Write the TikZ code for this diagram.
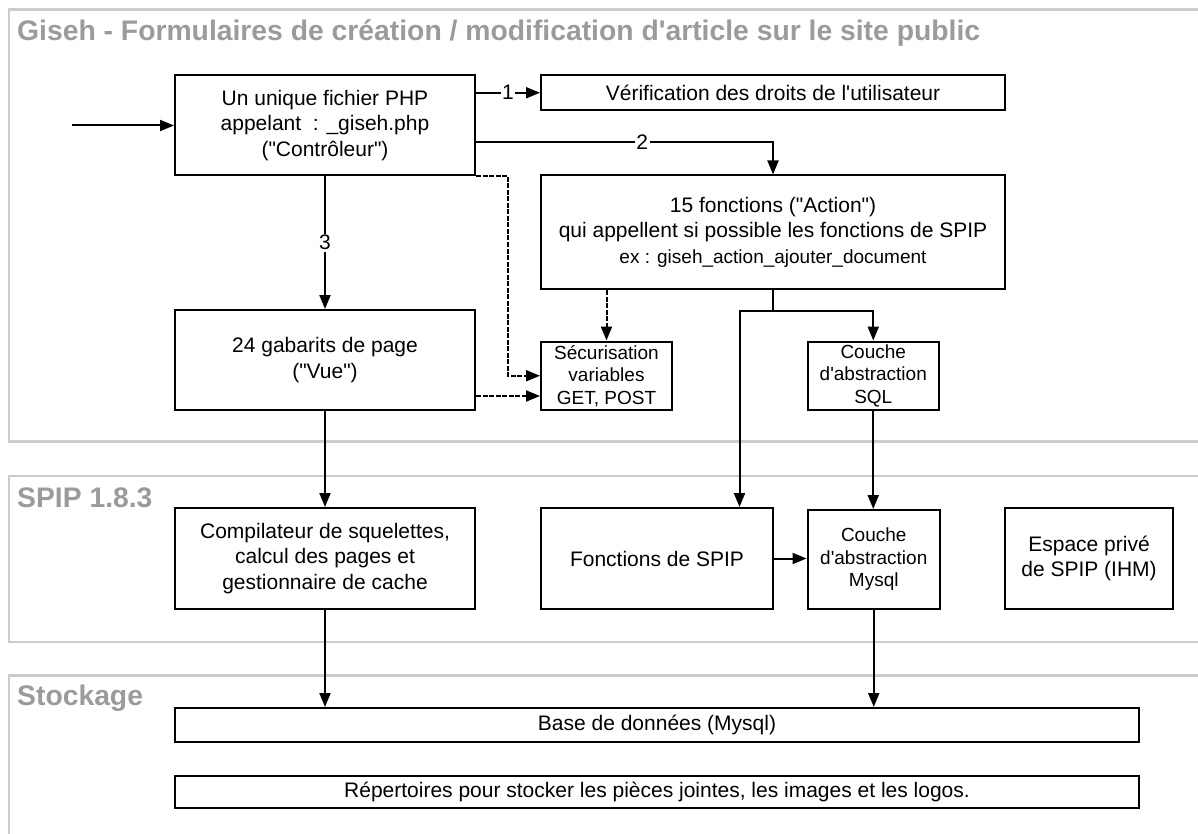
\documentclass[tikz,border=0pt]{standalone}
\usepackage{fontspec}
\setmainfont{Liberation Sans}[Ligatures=TeXOff]
\usetikzlibrary{arrows.meta,calc,positioning}
\definecolor{framegray}{RGB}{204,204,204}
\definecolor{titlegray}{RGB}{155,155,155}
\newcommand{\boxfont}{\fontsize{21}{25.5}\selectfont}
\newcommand{\smallfont}{\fontsize{19}{22.5}\selectfont}
\newcommand{\titlefont}{\fontsize{28.3}{32}\selectfont\bfseries}

\begin{document}
\begin{tikzpicture}[x=1pt,y=-1pt,
    box/.style={draw, line width=2pt, align=center, inner sep=0pt, font=\boxfont},
    smallbox/.style={box, font=\smallfont},
    arr/.style={line width=2pt, -{Triangle[length=14pt,width=11pt]}},
    darr/.style={arr, dash pattern=on 5pt off 1.5pt},
    lbl/.style={fill=white, inner sep=1.5pt, font=\boxfont},
    frame/.style={draw=framegray, line width=2.5pt},
    sectitle/.style={anchor=west, inner sep=0pt, text=titlegray, font=\titlefont}]
\useasboundingbox (0,0) rectangle (1198,834);

% sections
\draw[frame] (1198,9.5) -- (9,9.5) -- (9,441.5) -- (1198,441.5);
\draw[frame] (1198,476) -- (9,476) -- (9,642) -- (1198,642);
\draw[frame] (1198,675.5) -- (9,675.5) -- (9,834);
\node[sectitle] (giseh) at (17,33) {Giseh - Formulaires de création / modification d'article sur le site public};
\node[sectitle] (spip) at (17,498) {SPIP 1.8.3};
\node[sectitle] (stock) at (17,698) {Stockage};

% boxes
\node[box, minimum width=300pt, minimum height=100pt] (ctrl) at (325,125.5)
    {Un unique fichier PHP\\appelant\ \ : \_giseh.php\\("Contrôleur")};
\node[box, minimum width=464pt, minimum height=34.5pt] (verif) at (773,92.75)
    {Vérification des droits de l'utilisateur};
\node[box, minimum width=464pt, minimum height=113.5pt] (action) at (773,232.25)
    {15 fonctions ("Action")\\qui appellent si possible les fonctions de SPIP\\{\smallfont ex : giseh\_action\_ajouter\_document}};
\node[box, minimum width=300pt, minimum height=100pt] (vue) at (325,360)
    {24 gabarits de page\\("Vue")};
\node[smallbox, minimum width=131pt, minimum height=68.5pt] (secu) at (606.5,375.75)
    {Sécurisation\\variables\\GET, POST};
\node[smallbox, minimum width=131.5pt, minimum height=68.5pt] (sql) at (873.25,375.75)
    {Couche\\d'abstraction\\SQL};
\node[box, minimum width=300pt, minimum height=101pt] (compil) at (325,558.5)
    {Compilateur de squelettes,\\calcul des pages et\\gestionnaire de cache};
\node[box, minimum width=232pt, minimum height=101pt] (fspip) at (657,558.5)
    {Fonctions de SPIP};
\node[smallbox, minimum width=132.5pt, minimum height=99pt] (mysql) at (873.75,559.5)
    {Couche\\d'abstraction\\Mysql};
\node[box, minimum width=168pt, minimum height=101pt] (espace) at (1089,558.5)
    {Espace privé\\de SPIP (IHM)};
\node[box, minimum width=964pt, minimum height=33.5pt] (base) at (657,724.75)
    {Base de données (Mysql)};
\node[box, minimum width=964pt, minimum height=32pt] (rep) at (657,791.5)
    {Répertoires pour stocker les pièces jointes, les images et les logos.};

% connectors
\coordinate (in) at (72,125.5);
\draw[arr] (in) -- (ctrl.west);
\draw[arr] (ctrl.east |- verif) -- node[lbl]{1} (verif.west);
\draw[arr] ($(ctrl.east)+(0,16.5)$) -| node[lbl, pos=0.28]{2} (action.north);
\draw[arr] (ctrl) -- node[lbl]{3} (vue);
\coordinate (dv) at (508,0);
\draw[darr] (ctrl.south east) -| (dv |- secu.west) -- (secu.west);
\draw[darr] (secu.north |- action.south) -- (secu.north);
\coordinate (vs) at ($(vue.east)+(0,36)$);
\draw[darr] (vs) -- (secu.west |- vs);
\draw[line width=2pt] (action.south) -- ++(0,21) coordinate (br);
\coordinate (bl) at (739.5,0);
\draw[arr] (br) -- (bl |- br) -- (bl |- fspip.north);
\draw[arr] (br) -| (sql.north);
\draw[arr] (sql.south) -- (sql.south |- mysql.north);
\draw[arr] (fspip.east) -- (mysql.west |- fspip.east);
\draw[arr] (vue) -- (compil);
\draw[arr] (compil.south) -- (compil.south |- base.north);
\draw[arr] (mysql.south) -- (mysql.south |- base.north);
\end{tikzpicture}
\end{document}
